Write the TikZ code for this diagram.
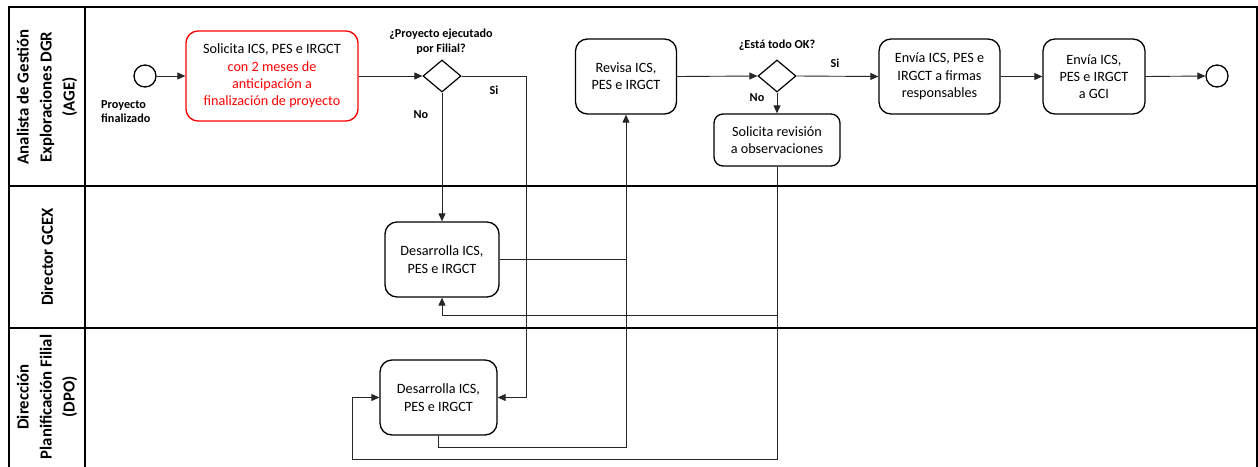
\documentclass[tikz,border=0pt]{standalone}
\usepackage{fontspec}
\setmainfont{Carlito}
\usetikzlibrary{arrows.meta,shapes.geometric}

\begin{document}
\begin{tikzpicture}[x=1pt,y=-1pt,
  lane/.style={line width=1.6pt, draw=black},
  lanetitle/.style={rotate=90, align=center, font=\bfseries\fontsize{16.8}{23}\selectfont},
  task/.style={draw=black, line width=1.3pt, rounded corners=12pt, align=center,
    inner sep=0pt, font=\fontsize{14.2}{17.3}\selectfont},
  redtask/.style={task, draw=red},
  gate/.style={draw=black, line width=1.2pt, diamond, inner sep=0pt,
    minimum width=38pt, minimum height=32pt},
  event/.style={draw=black, line width=1.3pt, circle, inner sep=0pt, minimum size=22pt},
  lbl/.style={font=\bfseries\fontsize{12.2}{15}\selectfont, align=center, inner sep=0pt},
  flow/.style={draw=black!85, line width=0.9pt, -{Triangle[length=8pt,width=7pt]}},
  plain/.style={draw=black!85, line width=0.9pt}
]
\useasboundingbox (0,0) rectangle (1258,466);
\clip (0,0) rectangle (1258,466);

% pool frame and lanes
\draw[lane] (9,480) -- (9,7) -- (1257,7) -- (1257,480);
\draw[lane] (85,7) -- (85,480);
\draw[lane] (9,186) -- (1257,186);
\draw[lane] (9,328) -- (1257,328);

\node[lanetitle] (l1) at (47,97) {Analista de Gestión\\Exploraciones DGR\\(AGE)};
\node[lanetitle] (l2) at (47,257) {Director GCEX};
\node[lanetitle] (l3) at (47,397) {Dirección\\Planificación Filial\\(DPO)};

% AGE lane
\node[event] (start) at (145,76) {};
\node[lbl, align=left, anchor=west, font=\bfseries\fontsize{12.2}{14}\selectfont] (startlbl) at (101,112) {Proyecto\\finalizado};

\node[redtask, minimum width=172pt, minimum height=90pt] (req) at (272,76)
  {Solicita ICS, PES e IRGCT\\\textcolor{red}{con 2 meses de}\\\textcolor{red}{anticipación a}\\\textcolor{red}{finalización de proyecto}};

\node[gate] (g1) at (442,76) {};
\node[lbl] (g1lbl) at (441,42) {¿Proyecto ejecutado\\por Filial?};
\node[lbl] (g1si) at (494,90) {Si};
\node[lbl] (g1no) at (421,115) {No};

\node[task, minimum width=101pt, minimum height=75pt] (rev) at (626,76.5) {Revisa ICS,\\PES e IRGCT};

\node[gate] (g2) at (777,76) {};
\node[lbl] (g2lbl) at (777,45) {¿Está todo OK?};
\node[lbl] (g2no) at (757,98) {No};
\node[lbl] (g2si) at (835,63) {Si};

\node[task, rounded corners=9pt, minimum width=126pt, minimum height=52pt] (obs) at (777,140)
  {Solicita revisión\\a observaciones};

\node[task, minimum width=121pt, minimum height=75pt] (env1) at (939.5,76.5)
  {Envía ICS, PES e\\IRGCT a firmas\\responsables};
\node[task, minimum width=102pt, minimum height=75pt] (env2) at (1094,76.5)
  {Envía ICS,\\PES e IRGCT\\a GCI};

\node[event] (end) at (1217,76) {};

% GCEX lane
\node[task, minimum width=114pt, minimum height=75pt] (dir) at (442,259.5) {Desarrolla ICS,\\PES e IRGCT};

% DPO lane
\node[task, minimum width=117pt, minimum height=75pt] (dpo) at (438.5,397.5) {Desarrolla ICS,\\PES e IRGCT};

% routing points
\coordinate (siturn) at (526,76);
\coordinate (dpodown) at (438.5,447);
\coordinate (revup) at (626,447);
\coordinate (obsmid) at (777,315);
\coordinate (obslow) at (777,459);
\coordinate (loopleft) at (352,459);

% sequence flows
\draw[flow] (start) -- (req);
\draw[flow] (req) -- (g1.west);
\draw[flow] (g1.south) -- (dir.north);
\draw[flow] (g1.east) -- (siturn) |- (dpo.east);
\draw[flow] (dir.east) -| (rev.south);
\draw[plain] (dpo.south) -- (dpodown) -- (revup) -- (rev.south |- dir.east);
\draw[flow] (rev.east) -- (g2.west);
\draw[flow] (g2.south) -- (obs.north);
\draw[flow] (g2.east) -- (env1.west);
\draw[flow] (env1.east) -- (env2.west);
\draw[flow] (env2.east) -- (end.west);
\draw[flow] (obs.south) -- (obsmid) -| (dir.south);
\draw[flow] (obsmid) -- (obslow) -- (loopleft) |- (dpo.west);
\end{tikzpicture}
\end{document}
